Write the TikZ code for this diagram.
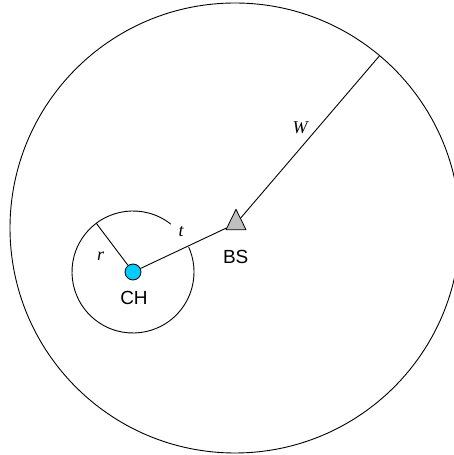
\documentclass[tikz,border=0pt]{standalone}
\usepackage{fontspec}
\setmainfont{Liberation Sans}
\newfontfamily\tms{Liberation Serif}
\usetikzlibrary{shapes.geometric,calc}
\definecolor{chblue}{HTML}{00CCFF}
\definecolor{bsgray}{HTML}{C0C0C0}
\tikzset{
  every picture/.style={line join=round, line cap=round},
  edge/.style={line width=0.9pt},
  chdot/.style={circle, draw, line width=0.8pt, fill=chblue, minimum size=16pt, inner sep=0pt},
  bstri/.style={isosceles triangle, shape border rotate=90, isosceles triangle stretches,
    draw, line width=0.8pt, fill=bsgray, minimum width=20pt, minimum height=20.4pt, inner sep=0pt},
  lab/.style={font=\fontsize{19}{21}\selectfont},
  var/.style={font=\fontsize{18}{20}\selectfont\tms\itshape},
}

\begin{document}
\begin{tikzpicture}[x=1pt,y=1pt]
\useasboundingbox (0,0) rectangle (454,455);
\coordinate (o) at (235,227);
\draw[edge] (o) circle[radius=225];
\node[chdot] (ch) at (133,183) {};
\node[bstri] (bs) at (236,231.5) {};
\coordinate (wend) at ($(o)+(50:225)$);
\coordinate (rend) at ($(ch.center)+(127:61)$);
% cluster range, open where t leaves it
\draw[edge] ($(ch.center)+(52:61)$) arc[start angle=52, end angle=384, radius=61];
\draw[edge] (ch) -- (rend);
\draw[edge] (ch) -- (bs);
\draw[edge] (bs) -- (wend);
\node[lab] (bslab) at (235.7,198.3) {BS};
\node[lab] (chlab) at (134,156.7) {CH};
\node[var] (rlab) at (100.7,199) {r};
\node[var] (tlab) at (181,223) {t};
\node[var] (wlab) at (300,327.3) {W};
\end{tikzpicture}
\end{document}
